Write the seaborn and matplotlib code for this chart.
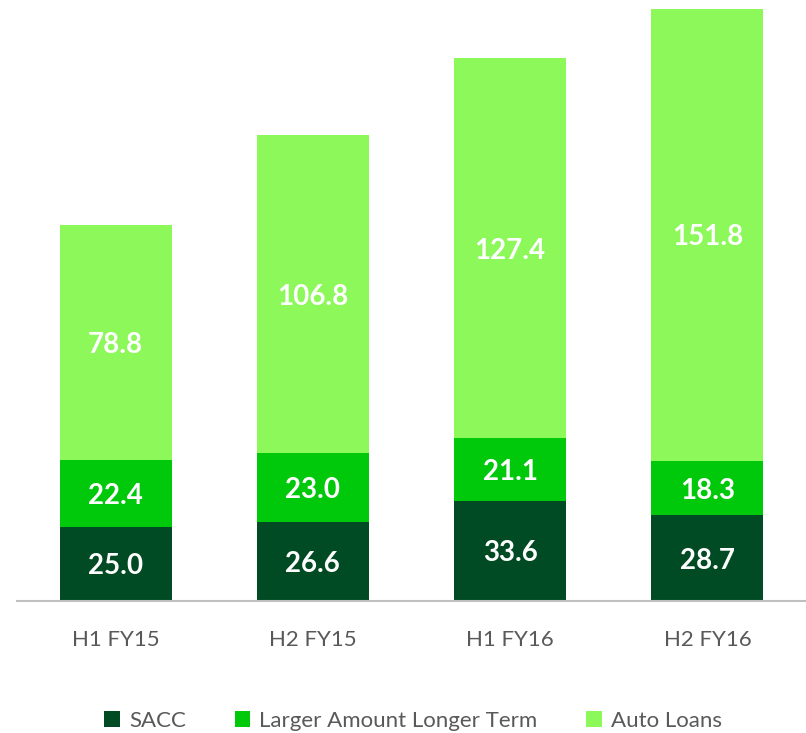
import matplotlib
matplotlib.use("Agg")
import matplotlib.pyplot as plt
import seaborn as sns
import pandas as pd
import numpy as np
from matplotlib.patches import Patch

categories = ["H1 FY15", "H2 FY15", "H1 FY16", "H2 FY16"]
sacc = [25.0, 26.6, 33.6, 28.7]
lalt = [22.4, 23.0, 21.1, 18.3]
auto = [78.8, 106.8, 127.4, 151.8]
series_names = ["SACC", "Larger Amount Longer Term", "Auto Loans"]
colors = ["#004b23", "#00c80a", "#8cf85a"]

sns.set_theme(style="white")
plt.rcParams["font.family"] = ["Lato", "DejaVu Sans"]

fig = plt.figure(figsize=(8.06, 7.33), dpi=100)
ax = fig.add_axes([17/806, 132/733, 789/806, 601/733])

s1 = np.array(sacc)
s2 = s1 + np.array(lalt)
s3 = s2 + np.array(auto)

df = pd.DataFrame({"cat": categories, "t1": s1, "t2": s2, "t3": s3})
for col, c in zip(["t3", "t2", "t1"], colors[::-1]):
    sns.barplot(data=df, x="cat", y=col, color=c, width=0.567, ax=ax,
                saturation=1, linewidth=0, order=categories)

for i in range(len(categories)):
    bottoms = [0, s1[i], s2[i]]
    vals = [sacc[i], lalt[i], auto[i]]
    for b, v in zip(bottoms, vals):
        ax.text(i, b + v / 2, f"{v:.1f}", ha="center", va="center_baseline",
                color="white", fontsize=20, fontweight="bold")

ax.set_xlim(-0.5, 3.5)
ax.set_ylim(0, 201.7)
ax.set_xlabel("")
ax.set_ylabel("")
ax.set_yticks([])
for s in ["top", "right", "left"]:
    ax.spines[s].set_visible(False)
ax.spines["bottom"].set_color("#bfbfbf")
ax.spines["bottom"].set_linewidth(1.5)
ax.tick_params(axis="x", length=0, pad=21, labelsize=16, labelcolor="#595959")

handles = [Patch(facecolor=c, edgecolor="none", label=n) for n, c in zip(series_names, colors)]
fig.legend(handles=handles, loc="center", bbox_to_anchor=(413/806, 1 - 721/733),
           ncol=3, frameon=False, fontsize=16, handlelength=0.7, handleheight=0.7,
           handletextpad=0.4, columnspacing=2.2, labelcolor="#595959")

fig.savefig("out.png", dpi=100)
